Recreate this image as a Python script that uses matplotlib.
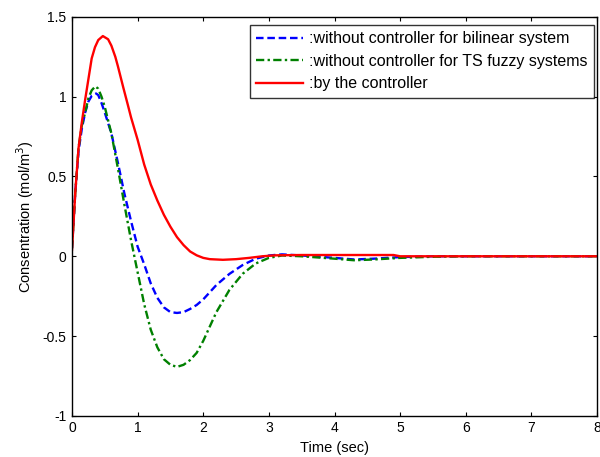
import matplotlib
matplotlib.use("Agg")
import matplotlib.pyplot as plt

plt.rcParams['font.family'] = ['Liberation Sans', 'DejaVu Sans']

# time points and responses
t_red = [0, 0.05, 0.1, 0.15, 0.2, 0.25, 0.3, 0.35, 0.4, 0.47, 0.55, 0.6, 0.66,
         0.7, 0.78, 0.85, 0.9, 1.0, 1.1, 1.2, 1.3, 1.4, 1.5, 1.6, 1.7, 1.8, 1.9, 2.0,
         2.1, 2.3, 2.5, 2.7, 2.9, 3.1, 3.5, 4.0, 4.5, 4.9, 5.0, 8.0]
y_red = [0.04, 0.4, 0.68, 0.84, 0.98, 1.11, 1.24, 1.31, 1.355, 1.38, 1.36, 1.32,
         1.25, 1.19, 1.06, 0.95, 0.87, 0.73, 0.575, 0.45, 0.35, 0.26, 0.185, 0.12,
         0.07, 0.03, 0.006, -0.01, -0.018, -0.022, -0.018, -0.01, 0.0, 0.006, 0.008,
         0.008, 0.008, 0.008, 0.0, 0.0]

t_blue = [0, 0.05, 0.1, 0.15, 0.2, 0.25, 0.3, 0.366, 0.4, 0.45, 0.5, 0.6, 0.7, 0.8,
          0.9, 1.0, 1.1, 1.2, 1.3, 1.4, 1.5, 1.6, 1.7, 1.8, 1.9, 2.0, 2.2, 2.4, 2.6,
          2.8, 3.0, 3.2, 3.5, 4.0, 4.3, 4.6, 5.0, 5.5, 8.0]
y_blue = [0.05, 0.4, 0.66, 0.8, 0.9, 0.97, 1.005, 1.02, 1.01, 0.96, 0.9, 0.77, 0.585,
          0.39, 0.22, 0.06, -0.05, -0.17, -0.26, -0.32, -0.35, -0.355, -0.35, -0.33,
          -0.305, -0.27, -0.18, -0.11, -0.055, -0.015, 0.005, 0.012, 0.005, -0.01,
          -0.02, -0.015, -0.005, 0.0, 0.0]

t_green = [0, 0.05, 0.1, 0.15, 0.2, 0.25, 0.3, 0.356, 0.4, 0.45, 0.5, 0.6, 0.7, 0.8,
           0.9, 1.0, 1.1, 1.2, 1.3, 1.4, 1.5, 1.6, 1.7, 1.8, 1.9, 2.0, 2.1, 2.2, 2.4,
           2.6, 2.8, 3.0, 3.2, 3.5, 4.0, 4.3, 4.6, 5.0, 5.5, 6.0, 8.0]
y_green = [0.05, 0.4, 0.68, 0.82, 0.9, 0.99, 1.04, 1.065, 1.05, 1.0, 0.935, 0.77, 0.55,
           0.32, 0.1, -0.1, -0.3, -0.46, -0.57, -0.645, -0.68, -0.693, -0.68, -0.65,
           -0.605, -0.53, -0.44, -0.35, -0.21, -0.11, -0.045, -0.01, 0.005, 0.0,
           -0.015, -0.025, -0.02, -0.01, -0.003, 0.0, 0.0]

labels = [':without controller for bilinear system',
          ':without controller for TS fuzzy systems',
          ':by the controller']

fig = plt.figure(figsize=(6, 4.57), dpi=100)
ax = fig.add_axes([0.12, 0.09, 0.875, 0.873])

ax.plot(t_blue, y_blue, '--', color=(0, 0, 1), lw=1.7, dashes=(3.2, 1.6), label=labels[0])
ax.plot(t_green, y_green, '-.', color=(0, 0.5, 0), lw=1.7, dashes=(3.5, 1.4, 1, 1.4), label=labels[1])
ax.plot(t_red, y_red, '-', color=(1, 0, 0), lw=1.7, label=labels[2])

ax.set_xlim(0, 8)
ax.set_ylim(-1, 1.5)
ax.set_xticks(range(0, 9))
ax.set_yticks([-1, -0.5, 0, 0.5, 1, 1.5])
ax.set_yticklabels(['-1', '-0.5', '0', '0.5', '1', '1.5'])
ax.tick_params(direction='in', top=True, right=True, length=3, labelsize=10, pad=4)
for s in ax.spines.values():
    s.set_linewidth(1.0)

ax.set_xlabel('Time (sec)', fontsize=10.5, labelpad=4)
ax.set_ylabel('Consentration (mol/m$^3$)', fontsize=10.5, labelpad=5)

leg = ax.legend(loc='upper right', bbox_to_anchor=(594 / 600, 1 - 25 / 457),
                bbox_transform=fig.transFigure, borderaxespad=0,
                fontsize=11.5, frameon=True, fancybox=False,
                edgecolor='black', handlelength=2.9, handletextpad=0.4,
                labelspacing=0.47, borderpad=0.4)
leg.get_frame().set_linewidth(1.0)

fig.savefig('out.png', dpi=100)
